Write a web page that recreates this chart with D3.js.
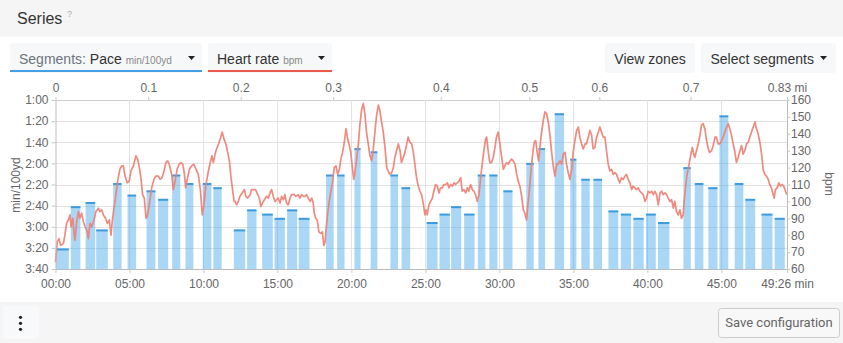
<!DOCTYPE html>
<html><head><meta charset="utf-8">
<script src="https://cdn.jsdelivr.net/npm/d3@7"></script>
<style>
html,body{margin:0;padding:0;background:#fff;}
svg{display:block;font-family:"Liberation Sans",Arial,sans-serif;}
</style></head><body>
<svg id="c" width="843" height="343"></svg>
<script>
// ---- data ----
const totalSeconds = 2966;
const segStart = [0,60,120,163,232,290,367,414,471,525,595,638,721,775,836,886,937,984,1095,1140,1210,1276,1356,1401,1503,1555,1602,1655,1710,1757,1814,1907,1956,2022,2085,2130,2179,2240,2290,2341,2392,2441,2544,2590,2645,2690,2752,2795,2861,2914];
const segEnd   = [56,103,163,214,270,329,407,459,508,561,634,676,771,817,883,932,982,1032,1130,1174,1239,1307,1391,1440,1551,1601,1647,1701,1745,1794,1855,1941,1987,2064,2114,2168,2218,2284,2336,2387,2436,2491,2578,2629,2686,2730,2791,2839,2909,2959];
const segPace  = [201,161,157,183,139,150,146,154,131,139,139,143,183,164,168,172,164,172,131,131,106,109,131,143,176,168,161,168,131,131,146,120,106,73,116,135,135,165,168,172,168,176,124,139,143,75,139,154,168,172];

const hrSamples = [[0,64],[7,76],[14,78],[21,74],[32,75],[38,80],[45,87],[52,89],[59,92],[63,85],[70,90],[76,80],[79,77],[86,88],[93,94],[99,90],[106,93],[113,88],[120,85],[129,82],[133,78],[140,87],[147,85],[156,89],[164,94],[174,96],[180,94],[187,95],[194,92],[203,90],[210,87],[218,89],[225,80],[230,88],[237,96],[245,104],[252,112],[261,119],[268,121],[275,121],[282,115],[291,111],[299,112],[306,118],[316,121],[326,127],[333,125],[340,120],[347,113],[353,104],[360,102],[367,90],[372,91],[380,98],[390,108],[399,113],[407,115],[417,115],[424,113],[432,114],[440,118],[448,123],[455,124],[461,122],[471,116],[478,107],[485,112],[493,119],[501,122],[509,123],[516,122],[522,117],[528,108],[534,113],[543,119],[552,121],[561,122],[570,119],[579,116],[588,106],[595,92],[602,98],[610,110],[620,118],[626,122],[634,127],[640,123],[647,128],[653,131],[661,134],[670,138],[676,141],[683,137],[691,134],[698,129],[705,124],[711,115],[717,108],[724,100],
[728,100],[734,98],[741,100],[748,103],[757,105],[766,107],[772,103],[779,102],[789,104],[795,107],[802,107],[811,107],[820,104],[826,102],[833,97],[839,99],[847,101],[856,103],[863,102],[870,105],[876,107],[883,103],[890,100],[897,101],[903,102],[910,99],[917,103],[924,101],[930,104],[937,99],[944,98],[951,102],[957,104],[968,104],[975,103],[984,104],[991,102],[998,104],[1005,103],[1011,103],[1018,104],[1025,102],[1032,100],[1039,102],[1045,99],[1049,93],[1055,90],[1061,89],[1068,82],[1075,81],[1082,82],[1088,74],[1093,76],[1098,85],[1103,92],[1110,100],[1117,106],[1124,112],[1130,120],[1137,121],[1144,116],[1151,119],[1157,125],[1164,129],[1171,135],[1178,143],[1183,138],[1190,134],[1197,129],[1203,121],[1209,113],[1214,117],[1221,125],[1228,134],[1234,145],[1241,154],[1248,158],[1255,151],[1261,141],[1268,134],[1275,127],[1282,124],[1288,130],[1295,141],[1302,151],[1309,157],[1315,154],[1322,147],[1329,141],[1336,132],[1343,120],[1349,118],[1356,116],[1363,117],[1370,120],[1376,126],[1383,130],[1390,134],[1397,130],[1403,123],[1410,126],[1417,129],[1424,134],[1430,138],[1437,135],[1444,134],[1451,129],[1457,122],[1464,114],[1471,109],
[1478,106],[1484,104],[1491,99],[1498,92],[1502,95],[1507,92],[1514,98],[1521,100],[1528,102],[1534,106],[1541,110],[1548,109],[1555,105],[1561,108],[1568,108],[1575,110],[1582,110],[1589,111],[1595,108],[1602,110],[1609,109],[1616,111],[1622,110],[1629,111],[1636,112],[1643,114],[1649,106],[1656,107],[1663,105],[1670,108],[1676,106],[1683,110],[1690,107],[1697,106],[1703,104],[1710,100],[1717,104],[1724,114],[1730,122],[1737,130],[1744,137],[1748,138],[1755,129],[1761,123],[1768,123],[1775,126],[1782,132],[1788,138],[1795,141],[1802,134],[1809,126],[1816,119],[1822,121],[1829,123],[1836,122],[1843,124],[1849,125],[1856,124],[1863,122],[1870,116],[1876,112],[1883,109],[1890,103],[1897,95],[1903,93],[1910,89],[1914,96],[1921,106],[1928,118],[1934,127],[1941,135],[1947,136],[1953,129],[1959,124],[1964,132],[1971,141],[1978,148],[1984,153],[1991,152],[1998,147],[2005,139],[2011,130],[2018,121],[2025,115],[2032,122],[2038,122],[2045,124],[2052,122],[2059,128],[2066,129],[2072,122],[2079,117],[2086,113],[2093,119],[2099,129],[2106,136],[2113,142],[2120,144],[2126,138],[2133,134],[2140,131],[2147,134],[2153,134],[2160,138],[2167,142],[2174,139],[2180,131],[2187,132],[2194,138],[2201,141],[2207,144],[2214,141],[2221,138],
[2228,138],[2234,130],[2241,122],[2248,118],[2255,119],[2261,116],[2268,117],[2275,116],[2282,113],[2288,111],[2295,114],[2302,113],[2309,115],[2315,116],[2322,113],[2329,111],[2336,107],[2342,109],[2349,108],[2356,107],[2363,108],[2369,106],[2376,105],[2383,104],[2390,100],[2397,102],[2403,106],[2410,105],[2417,106],[2424,104],[2430,106],[2437,104],[2444,98],[2451,105],[2457,106],[2464,104],[2471,105],[2478,104],[2484,102],[2491,100],[2498,101],[2505,96],[2511,100],[2518,94],[2525,92],[2532,95],[2538,90],[2545,92],[2549,100],[2555,109],[2561,116],[2568,121],[2575,127],[2582,132],[2586,129],[2592,126],[2599,130],[2606,134],[2613,139],[2619,145],[2626,146],[2633,143],[2640,136],[2647,131],[2653,129],[2660,130],[2667,133],[2674,138],[2680,138],[2687,134],[2694,134],[2701,136],[2707,138],[2714,141],[2721,144],[2728,146],[2734,143],[2741,139],[2748,134],[2755,129],[2761,123],[2768,126],[2775,130],[2782,133],[2788,128],[2795,130],[2802,134],[2809,135],[2815,138],[2822,141],[2829,144],[2836,147],[2842,143],[2849,140],[2856,135],[2863,128],[2869,119],[2876,116],[2883,115],[2890,113],[2896,110],[2903,108],[2910,104],[2914,102],[2919,107],[2926,108],[2933,111],[2940,109],[2946,110],[2953,109],[2960,106],[2966,104]];

const paceTickValues = [60,80,100,120,140,160,180,200,220];
const paceTickLabels = ["1:00","1:20","1:40","2:00","2:20","2:40","3:00","3:20","3:40"];
const hrTickValues = [60,70,80,90,100,110,120,130,140,150,160];
const timeTickValues = [0,300,600,900,1200,1500,1800,2100,2400,2700,2966];
const timeTickLabels = ["00:00","05:00","10:00","15:00","20:00","25:00","30:00","35:00","40:00","45:00","49:26 min"];
const distTickTimes = [0,376,751,1126,1562,1921,2205,2575,2966];
const distTickLabels = ["0","0.1","0.2","0.3","0.4","0.5","0.6","0.7","0.83 mi"];

// ---- drawing ----
const svg = d3.select('#c');
const W = 843, H = 343;
svg.append('rect').attr('width',W).attr('height',H).attr('fill','#fff');

// header
svg.append('rect').attr('x',0).attr('y',0).attr('width',W).attr('height',37).attr('fill','#f5f5f5');
svg.append('text').attr('x',17).attr('y',24).attr('font-size',16).attr('fill','#333').text('Series');
svg.append('text').attr('x',67).attr('y',17).attr('font-size',9).attr('fill','#aaa').text('?');

function button(x,w,border){
  const g = svg.append('g');
  g.append('rect').attr('x',x).attr('y',43).attr('width',w).attr('height',30).attr('rx',3).attr('fill','#f7f8fa');
  if(border) g.append('rect').attr('x',x).attr('y',70).attr('width',w).attr('height',2).attr('fill',border);
  return g;
}
function caret(g,x){
  g.append('path').attr('d',`M${x},56 L${x+7},56 L${x+3.5},60 Z`).attr('fill','#222');
}
let b1 = button(10,192,'#42a1e4');
let t1 = b1.append('text').attr('x',19).attr('y',63.5).attr('font-size',14);
t1.append('tspan').attr('fill','#6c757d').text('Segments: ');
t1.append('tspan').attr('fill','#333').text('Pace ');
t1.append('tspan').attr('fill','#888').attr('font-size',10).text('min/100yd');
caret(b1,188);
let b2 = button(208,124,'#ec5a4e');
let t2 = b2.append('text').attr('x',217).attr('y',63.5).attr('font-size',14);
t2.append('tspan').attr('fill','#333').text('Heart rate ');
t2.append('tspan').attr('fill','#888').attr('font-size',10).text('bpm');
caret(b2,318);
let b3 = button(605,90,null);
b3.append('text').attr('x',650).attr('y',63.5).attr('font-size',14).attr('text-anchor','middle').attr('fill','#333').text('View zones');
let b4 = button(701,135,null);
b4.append('text').attr('x',710.5).attr('y',63.5).attr('font-size',14).attr('fill','#333').text('Select segments');
caret(b4,820);

// scales
const x0 = 55.5, x1 = 787, yTop = 100, yBot = 269;
const x = d3.scaleLinear().domain([0,totalSeconds]).range([x0,x1]);
const yP = d3.scaleLinear().domain([60,220]).range([yTop,yBot]);
const yH = d3.scaleLinear().domain([60,160]).range([yBot,yTop]);

// grid
const grid = svg.append('g');
grid.selectAll('.hg').data(paceTickValues).enter().append('line')
  .attr('x1',x0).attr('x2',x1).attr('y1',d=>Math.round(yP(d))+0.5).attr('y2',d=>Math.round(yP(d))+0.5)
  .attr('stroke',(d,i)=> i===0 ? '#cfcfcf' : '#e3e3e3');
grid.selectAll('.vg').data(timeTickValues.slice(1,-1)).enter().append('line')
  .attr('y1',yTop).attr('y2',yBot).attr('x1',d=>Math.round(x(d))+0.5).attr('x2',d=>Math.round(x(d))+0.5)
  .attr('stroke','#e3e3e3');

// bars
const segs = segPace.map((p,i)=>({s:segStart[i],e:segEnd[i],p:p}));
const bars = svg.append('g');
bars.selectAll('rect.bar').data(segs).enter().append('rect')
  .attr('x',d=>x(d.s)+0.5).attr('width',d=>x(d.e)-x(d.s)-1)
  .attr('y',d=>yP(d.p)).attr('height',d=>yBot-yP(d.p))
  .attr('fill','rgba(54,160,235,0.42)');
bars.selectAll('rect.top').data(segs).enter().append('rect')
  .attr('x',d=>x(d.s)+0.5).attr('width',d=>x(d.e)-x(d.s)-1)
  .attr('y',d=>yP(d.p)-0.5).attr('height',2)
  .attr('fill','#3a9be0');

// HR line
const line = d3.line().x(d=>x(d[0])).y(d=>yH(d[1])).curve(d3.curveLinear);
svg.append('path').datum(hrSamples).attr('d',line).attr('fill','none')
  .attr('stroke','#ef8074').attr('stroke-width',1.7).attr('stroke-opacity',0.92).attr('stroke-linejoin','round');

// axes
function styleAxis(g, domainColor){
  g.selectAll('path.domain').attr('stroke',domainColor||'none');
  g.selectAll('.tick line').attr('stroke','#c8c8c8');
  g.selectAll('.tick text').attr('fill','#666').attr('font-size',12).attr('font-family','"Liberation Sans",Arial,sans-serif');
}
const gl = svg.append('g').attr('transform',`translate(${x0},0)`)
  .call(d3.axisLeft(yP).tickValues(paceTickValues).tickFormat((d,i)=>paceTickLabels[i]).tickSize(4).tickPadding(3).tickSizeOuter(0));
styleAxis(gl,'#bbb');
const gr = svg.append('g').attr('transform',`translate(${x1},0)`)
  .call(d3.axisRight(yH).tickValues(hrTickValues).tickSize(3).tickPadding(1).tickSizeOuter(0));
styleAxis(gr,'#bbb');
const gb = svg.append('g').attr('transform',`translate(0,${yBot})`)
  .call(d3.axisBottom(x).tickValues(timeTickValues).tickFormat((d,i)=>timeTickLabels[i]).tickSize(4).tickPadding(6).tickSizeOuter(0));
styleAxis(gb,'#bbb');
const gt = svg.append('g').attr('transform',`translate(0,${yTop})`)
  .call(d3.axisTop(x).tickValues(distTickTimes).tickFormat((d,i)=>distTickLabels[i]).tickSize(3).tickPadding(5).tickSizeOuter(0));
styleAxis(gt,null);

// axis titles
svg.append('text').attr('transform','translate(20,185) rotate(-90)').attr('text-anchor','middle')
  .attr('font-size',12).attr('fill','#666').text('min/100yd');
svg.append('text').attr('transform','translate(825,184) rotate(90)').attr('text-anchor','middle')
  .attr('font-size',12).attr('fill','#666').text('bpm');

// footer
svg.append('rect').attr('x',0).attr('y',302).attr('width',W).attr('height',H-302).attr('fill','#f5f5f5');
svg.append('rect').attr('x',3).attr('y',306).attr('width',36).attr('height',33).attr('rx',3).attr('fill','#f8f9fa');
[317.3,323.3,329.3].forEach(cy=>svg.append('circle').attr('cx',20.5).attr('cy',cy).attr('r',1.6).attr('fill','#222'));
svg.append('rect').attr('x',718.5).attr('y',308.5).attr('width',121).attr('height',29).attr('rx',3)
  .attr('fill','#f8f8f8').attr('stroke','#ccc');
svg.append('text').attr('x',779).attr('y',327).attr('text-anchor','middle').attr('font-size',13)
  .attr('font-family','Roboto,sans-serif').attr('fill','#666').text('Save configuration');
</script>
</body></html>
